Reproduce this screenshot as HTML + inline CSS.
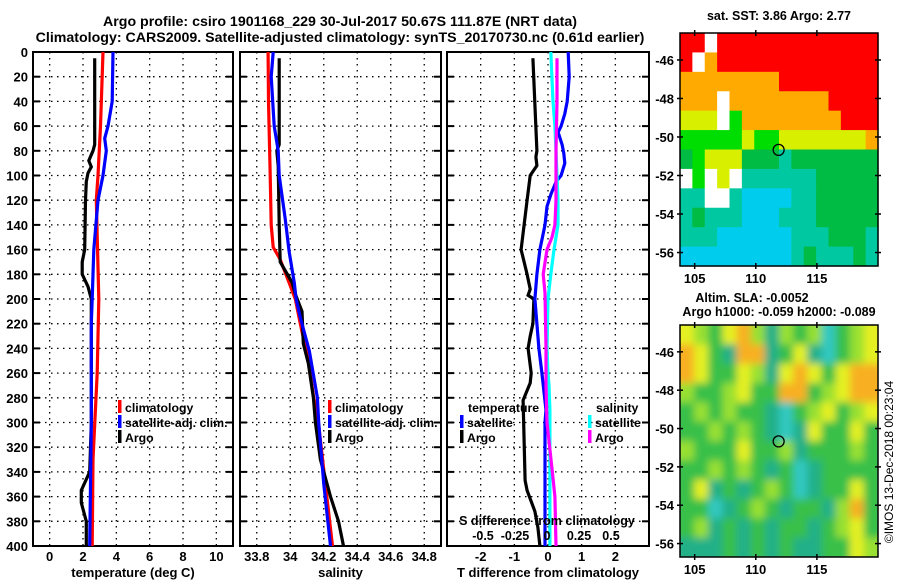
<!DOCTYPE html>
<html><head><meta charset="utf-8"><style>
html,body{margin:0;padding:0;background:#fff;}
svg{display:block;font-family:"Liberation Sans",Arial,sans-serif;font-weight:bold;}
</style></head><body>
<svg id="fig" width="900" height="580" viewBox="0 0 900 580" xmlns="http://www.w3.org/2000/svg">
<defs>
<filter id="blur2" x="-5%" y="-5%" width="110%" height="110%"><feGaussianBlur stdDeviation="4"/></filter>
<clipPath id="clip2"><rect x="680" y="325" width="198" height="232"/></clipPath>
</defs>
<text x="340" y="26" font-size="14.2" text-anchor="middle">Argo profile: csiro 1901168_229 30-Jul-2017 50.67S 111.87E (NRT data)</text>
<text x="340" y="42" font-size="14.2" text-anchor="middle">Climatology: CARS2009. Satellite-adjusted climatology: synTS_20170730.nc (0.61d earlier)</text>
<g id="plots"></g>
</svg>
<script>
// ---- profile data (depth in m) ----
const depthTicks = [0,20,40,60,80,100,120,140,160,180,200,220,240,260,280,300,320,340,360,380,400];
const tempTicks = [0,2,4,6,8,10];
const salTicks = [33.8,34,34.2,34.4,34.6,34.8];
const salTickLabels = ["33.8","34","34.2","34.4","34.6","34.8"];
const tdiffTicks = [-2,-1,0,1,2];
const sdiffTicks = [-0.5,-0.25,0,0.25,0.5];
const sdiffTickLabels = ["-0.5","-0.25","0","0.25","0.5"];

const argoTDepth = [5,75,80,88,93,98,105,120,160,170,180,190,200,260,300,340,355,365,380,400];
const argoT      = [2.7,2.7,2.6,2.35,2.5,2.3,2.2,2.15,2.1,1.95,1.95,2.3,2.5,2.5,2.5,2.4,1.9,1.9,2.2,2.2];
const climTDepth = [0,60,100,120,200,260,330,400];
const climT      = [3.2,3.05,2.9,2.8,2.95,2.85,2.6,2.55];
const satTDepth  = [0,40,60,70,80,100,120,160,200,220,300,400];
const satT       = [3.8,3.75,3.5,3.3,3.4,3.2,2.9,2.65,2.55,2.5,2.5,2.4];

const climSDepth = [0,40,100,140,158,168,187,200,220,250,280,300,350,400];
const climS      = [33.868,33.87,33.88,33.886,33.898,33.94,33.994,34.03,34.06,34.108,34.14,34.168,34.21,34.252];
const satSDepth  = [0,20,60,80,100,135,162,187,200,215,242,280,300,350,400];
const satS       = [33.898,33.886,33.904,33.928,33.934,33.97,33.994,34.024,34.035,34.06,34.114,34.162,34.17,34.2,34.24];
const argoSDepth = [5,75,80,92,140,170,187,196,210,236,252,280,300,330,360,380,400];
const argoS      = [33.934,33.934,33.92,33.928,33.934,33.94,34.012,34.03,34.07,34.078,34.108,34.138,34.15,34.18,34.24,34.288,34.318];

const argoTdDepth = [5,80,85,92,100,120,140,160,170,180,192,197,200,220,230,240,260,268,282,347,355,372,385,400];
const argoTd      = [-0.45,-0.33,-0.36,-0.33,-0.53,-0.62,-0.71,-0.8,-0.71,-0.62,-0.53,-0.59,-0.42,-0.45,-0.53,-0.59,-0.5,-0.53,-0.74,-0.68,-0.62,-0.39,-0.3,-0.24];
const satTdDepth  = [0,20,40,50,60,65,75,82,90,100,105,115,125,140,160,180,200,220,240,260,290,300,400];
const satTd       = [0.6,0.63,0.57,0.5,0.39,0.3,0.42,0.47,0.5,0.39,0.24,0.09,-0.03,-0.09,-0.24,-0.33,-0.39,-0.33,-0.27,-0.18,-0.06,-0.09,-0.09];
const satSdDepth  = [0,40,60,80,100,120,140,160,180,200,240,260,270,290,400];
const satSd       = [0.03,0.047,0.062,0.07,0.078,0.086,0.086,0.055,0.03,0.008,0.0,0.008,0.016,0.023,0.023];
const argoSdDepth = [5,40,80,120,140,150,160,180,195,240,270,300,345,360,400];
const argoSd      = [0.078,0.078,0.07,0.07,0.062,0.039,0.0,-0.03,-0.016,-0.008,-0.008,0.0,0.047,0.062,0.07];

// ---- map data ----
const map1Rows = [
"RRWRRRRRRRRRRRRR",
"RWORRRRRRRRRRRRR",
"OOOOOOOORRRRRRRR",
"OOOWOOOOOOOORRRR",
"YYYWGOOOOOOOORRR",
"GGGGGYGGYYYYYYYO",
"DGYYYDDDTDDDDDDD",
"WGWYWTTTTTTDDDDD",
"TTWWTCCCCTTDDDDD",
"TDTTTCCCTTTDDDDD",
"TTTCCCCCCTTTDDDT",
"CCCCCCCCCTDTTTDT"];
const map2Rows = [
"YLgYOLTLgLCgLY",
"OYgTOOTgYTCgLY",
"OYggYLTYOYgYOO",
"LggLYggOOgLYOO",
"gLgLggTCgLYgLY",
"ggLgLgTCTYggYg",
"LgggYggLTgggLg",
"ggLgLgTgCTgggg",
"gYTgTgLgCTggYg",
"ggCTgLgTggTLOg",
"gLTgTgTggTgLYg",
"TTTgTgTgTTggYL"];
const mapLatTicks = [-46,-48,-50,-52,-54,-56];
const mapLonTicks = [105,110,115];
const argoLon = 111.87, argoLat = -50.67;

const NS="http://www.w3.org/2000/svg";
const root=document.getElementById('plots');
function el(tag,attrs,parent){const e=document.createElementNS(NS,tag);for(const k in attrs)e.setAttribute(k,attrs[k]);(parent||root).appendChild(e);return e;}

const Y0=52,Y1=546;
function yD(d){return Y0+d*(Y1-Y0)/400;}
function mkX(x0,x1,v0,v1){return v=>x0+(v-v0)*(x1-x0)/(v1-v0);}

function panel(name,x0,x1,xs,ticks,labels,title,leftLabels){
  const g=el('g',{});
  
  
  ticks.forEach((t,i)=>{
    const x=xs(t);
    const l=el('line',{x1:x,x2:x,y1:Y0,y2:Y1,stroke:'#000','stroke-width':1.3,'stroke-dasharray':'1.5,4.5'},g);
    
    
    const tx=el('text',{x:x,y:561,'font-size':13,'text-anchor':'middle'},g);
    tx.textContent=labels?labels[i]:String(t);
    
    
  });
  depthTicks.forEach(d=>{
    const y=yD(d);
    if(d>0&&d<400){
      const l=el('line',{x1:x0,x2:x1,y1:y,y2:y,stroke:'#000','stroke-width':1.3,'stroke-dasharray':'1.5,4.5'},g);
      
      
    }
    el('line',{x1:x0,x2:x0+7,y1:y,y2:y,stroke:'#000','stroke-width':2},g);
    el('line',{x1:x1-7,x2:x1,y1:y,y2:y,stroke:'#000','stroke-width':2},g);
    if(leftLabels){
      const tx=el('text',{x:x0-5,y:y+5,'font-size':13,'text-anchor':'end'},g);
      tx.textContent=String(d);
      
      
    }
  });
  const r=el('rect',{x:x0,y:Y0,width:x1-x0,height:Y1-Y0,fill:'none',stroke:'#000','stroke-width':2},g);
  
  
  const tt=el('text',{x:(x0+x1)/2,y:577,'font-size':13,'text-anchor':'middle'},g);
  tt.textContent=title;
  
  
  return g;
}
function profile(g,name,depths,vals,xs,color){
  const pts=depths.map((d,i)=>xs(vals[i]).toFixed(1)+','+yD(d).toFixed(1)).join(' ');
  const p=el('polyline',{points:pts,fill:'none',stroke:color,'stroke-width':3.2,'stroke-linejoin':'miter'},g);
  
  
}
function legend(g,x,y,color,label,name){
  el('rect',{x:x,y:y-10,width:3.5,height:13,fill:color},g);
  const t=el('text',{x:x+7,y:y+2,'font-size':12.3},g);
  t.textContent=label;
  
  
}

// Panel 1 temperature
const xT=mkX(33,233,-1,11);
const g1=panel('temperature-panel',33,233,xT,tempTicks,null,'temperature (deg C)',true);
profile(g1,'argo-temperature-line',argoTDepth,argoT,xT,'#000');
profile(g1,'climatology-temperature-line',climTDepth,climT,xT,'#f00');
profile(g1,'satellite-temperature-line',satTDepth,satT,xT,'#00f');
legend(g1,118,410,'#f00','climatology','legend-climatology');
legend(g1,118,425,'#00f','satellite-adj. clim.','legend-satellite');
legend(g1,118,440,'#000','Argo','legend-argo');

// Panel 2 salinity
const xS=mkX(240,441,33.7,34.9);
const g2=panel('salinity-panel',240,441,xS,salTicks,salTickLabels,'salinity',false);
profile(g2,'climatology-salinity-line',climSDepth,climS,xS,'#f00');
profile(g2,'argo-salinity-line',argoSDepth,argoS,xS,'#000');
profile(g2,'satellite-salinity-line',satSDepth,satS,xS,'#00f');
legend(g2,328,410,'#f00','climatology','legend-climatology');
legend(g2,328,425,'#00f','satellite-adj. clim.','legend-satellite');
legend(g2,328,440,'#000','Argo','legend-argo');

// Panel 3 differences
const xTd=mkX(447,649,-3,3);
const xSd=v=>547+v*128;
const g3=panel('difference-panel',447,649,xTd,tdiffTicks,null,'T difference from climatology',false);
profile(g3,'argo-t-diff-line',argoTdDepth,argoTd,xTd,'#000');
profile(g3,'satellite-t-diff-line',satTdDepth,satTd,xTd,'#00f');
profile(g3,'satellite-s-diff-line',satSdDepth,satSd,xSd,'#0ff');
profile(g3,'argo-s-diff-line',argoSdDepth,argoSd,xSd,'#f0f');
let lt=el('text',{x:468,y:412,'font-size':12.3},g3);lt.textContent='temperature';


legend(g3,460,425,'#00f','satellite','legend-t-satellite');
legend(g3,460,440,'#000','Argo','legend-t-argo');
lt=el('text',{x:596,y:412,'font-size':12.3},g3);lt.textContent='salinity';


legend(g3,588,425,'#0ff','satellite','legend-s-satellite');
legend(g3,588,440,'#f0f','Argo','legend-s-argo');
lt=el('text',{x:547,y:525,'font-size':12.5,'text-anchor':'middle'},g3);lt.textContent='S difference from climatology';


sdiffTicks.forEach((t,i)=>{
  const tx=el('text',{x:xSd(t),y:540,'font-size':12.5,'text-anchor':'middle'},g3);
  tx.textContent=sdiffTickLabels[i];
  
  
});

// ---- maps ----
const pal1={R:'#ff0000',O:'#ffaa00',Y:'#d8f000',G:'#00dd00',D:'#00bb44',T:'#00c8a0',C:'#00ccee',W:'#ffffff'};
const pal2={g:'#38c048',L:'#98e030',Y:'#e4f020',O:'#f8b020',T:'#20b088',C:'#30c8c0'};
function drawMap(name,y0,y1,rows,pal,title,titleY,smooth){
  const x0=680,x1=878;
  const g=el('g',{});
  
  
  const lonX=mkX(x0,x1,103.8,120);
  const latY=mkX(y0,y1,-44.6,-56.7);
  const nr=rows.length,nc=rows[0].length;
  const cw=(x1-x0)/nc,ch=(y1-y0)/nr;
  let cg=g;
  if(smooth){
    const clip=el('g',{'clip-path':'url(#clip2)'},g);
    cg=el('g',{filter:'url(#blur2)'},clip);
  }
  rows.forEach((row,r)=>{
    for(let c=0;c<nc;c++){
      const ex=smooth?6:0;
      const cx=x0+c*cw-(c===0?ex:0), cy=y0+r*ch-(r===0?ex:0);
      const w=cw+0.6+(c===0||c===nc-1?ex:0), h=ch+0.6+(r===0||r===nr-1?ex:0);
      const cell=el('rect',{x:cx,y:cy,width:w,height:h,fill:pal[row[c]]},cg);
      
      
    }
  });
  el('rect',{x:x0,y:y0,width:x1-x0,height:y1-y0,fill:'none',stroke:'#000','stroke-width':1.5},g);
  mapLatTicks.forEach(t=>{
    const y=latY(t);
    el('line',{x1:x0-3,x2:x0+3,y1:y,y2:y,stroke:'#000','stroke-width':1.5},g);
    el('line',{x1:x1-3,x2:x1+3,y1:y,y2:y,stroke:'#000','stroke-width':1.5},g);
    const tx=el('text',{x:x0-6,y:y+5,'font-size':13,'text-anchor':'end'},g);
    tx.textContent=String(t);
    
    
  });
  mapLonTicks.forEach(t=>{
    const x=lonX(t);
    el('line',{x1:x,x2:x,y1:y1-3,y2:y1+3,stroke:'#000','stroke-width':1.5},g);
    el('line',{x1:x,x2:x,y1:y0-3,y2:y0+3,stroke:'#000','stroke-width':1.5},g);
    const tx=el('text',{x:x,y:y1+17,'font-size':13,'text-anchor':'middle'},g);
    tx.textContent=String(t);
    
    
  });
  const m=el('circle',{cx:lonX(argoLon),cy:latY(argoLat),r:5.5,fill:'none',stroke:'#000','stroke-width':1.3},g);
  
  
  const tt=el('text',{x:779,y:titleY,'font-size':12.5,'text-anchor':'middle'},g);
  tt.textContent=title;
  
  
}
drawMap('sst-map',33,266,map1Rows,pal1,'sat. SST: 3.86 Argo: 2.77',20,false);
drawMap('sla-map',325,557,map2Rows,pal2,'Argo h1000: -0.059 h2000: -0.089',316,true);
let st=el('text',{x:752,y:302,'font-size':12.5,'text-anchor':'middle'});
st.textContent='Altim. SLA: -0.0052';


let cp=el('text',{x:0,y:0,'font-size':12,'font-weight':'normal','text-anchor':'middle',transform:'translate(893,462) rotate(-90)'});
cp.textContent='©IMOS 13-Dec-2018 00:23:04';


</script>
</body></html>
